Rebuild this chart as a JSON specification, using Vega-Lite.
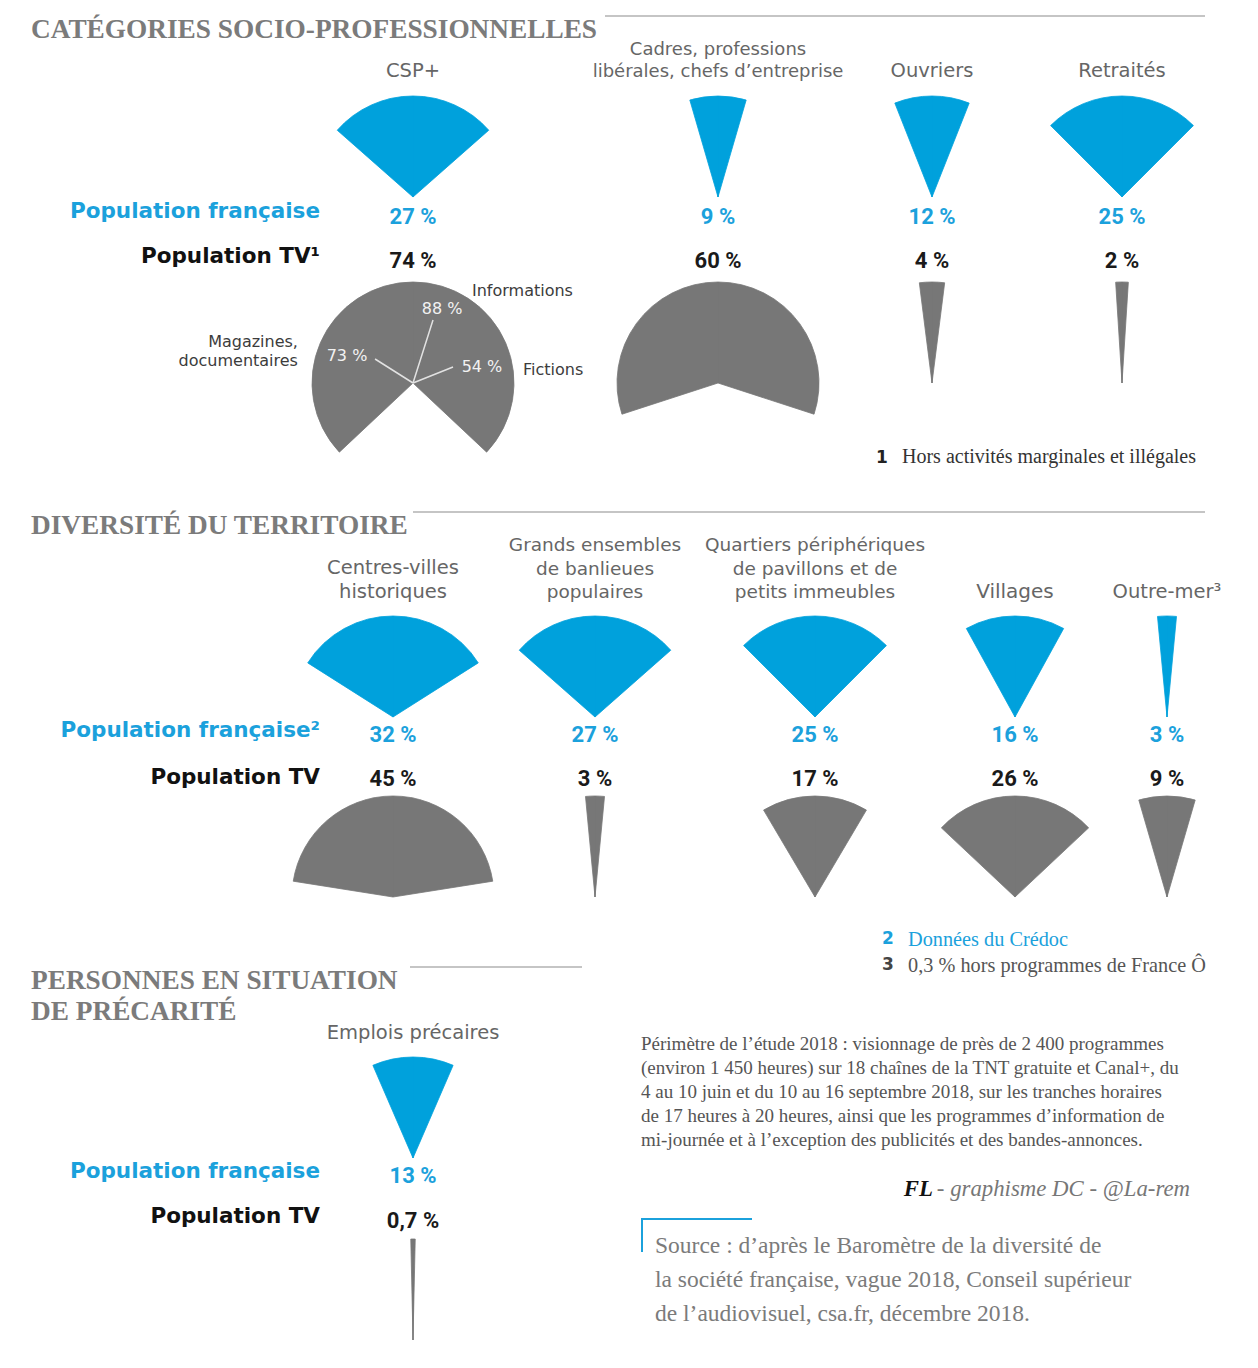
{
  "$schema": "https://vega.github.io/schema/vega-lite/v6.json",
  "background": "white",
  "padding": 0,
  "spacing": 0,
  "bounds": "full",
  "datasets": {
    "csp": [
      {"categorie": "CSP+", "population": "Population française", "part": 27},
      {"categorie": "CSP+", "population": "Population TV¹", "part": 74},
      {"categorie": "Cadres, professions\nlibérales, chefs d’entreprise", "population": "Population française", "part": 9},
      {"categorie": "Cadres, professions\nlibérales, chefs d’entreprise", "population": "Population TV¹", "part": 60},
      {"categorie": "Ouvriers", "population": "Population française", "part": 12},
      {"categorie": "Ouvriers", "population": "Population TV¹", "part": 4},
      {"categorie": "Retraités", "population": "Population française", "part": 25},
      {"categorie": "Retraités", "population": "Population TV¹", "part": 2}
    ],
    "genres": [
      {"genre": "Informations", "part": 88},
      {"genre": "Magazines,\ndocumentaires", "part": 73},
      {"genre": "Fictions", "part": 54}
    ],
    "territoire": [
      {"categorie": "Centres-villes\nhistoriques", "population": "Population française²", "part": 32},
      {"categorie": "Centres-villes\nhistoriques", "population": "Population TV", "part": 45},
      {"categorie": "Grands ensembles\nde banlieues\npopulaires", "population": "Population française²", "part": 27},
      {"categorie": "Grands ensembles\nde banlieues\npopulaires", "population": "Population TV", "part": 3},
      {"categorie": "Quartiers périphériques\nde pavillons et de\npetits immeubles", "population": "Population française²", "part": 25},
      {"categorie": "Quartiers périphériques\nde pavillons et de\npetits immeubles", "population": "Population TV", "part": 17},
      {"categorie": "Villages", "population": "Population française²", "part": 16},
      {"categorie": "Villages", "population": "Population TV", "part": 26},
      {"categorie": "Outre-mer³", "population": "Population française²", "part": 3},
      {"categorie": "Outre-mer³", "population": "Population TV", "part": 9}
    ],
    "precarite": [
      {"categorie": "Emplois précaires", "population": "Population française", "part": 13},
      {"categorie": "Emplois précaires", "population": "Population TV", "part": 0.7}
    ]
  },
  "vconcat": [
    {
      "spacing": 0, "bounds": "flush",
      "hconcat": [
        {"width": 320, "height": 490,
         "layer": [
           {"data": {"name": "csp"},
            "transform": [{"aggregate": [{"op": "count", "as": "n"}], "groupby": ["population"]}],
            "mark": {"type": "text", "font": "DejaVu Sans", "fontWeight": "bold", "fontSize": 21.5, "align": "right", "baseline": "middle"},
            "encoding": {
              "x": {"value": "width"},
              "y": {"field": "population", "type": "nominal", "scale": {"domain": ["Population française", "Population TV¹"], "range": [212, 257], "padding": 0}, "axis": null},
              "text": {"field": "population", "type": "nominal"},
              "color": {"field": "population", "type": "nominal", "scale": {"domain": ["Population française", "Population TV¹"], "range": ["#1ba1dc", "#111111"]}, "legend": null}
            }},
           {"data": {"values": [{}]},
            "mark": {"type": "text", "text": "CATÉGORIES SOCIO-PROFESSIONNELLES", "font": "Liberation Serif", "fontWeight": "bold", "fontSize": 27.3, "color": "#7b7b7b", "align": "left", "baseline": "top", "dx": 31, "dy": 16},
            "encoding": {"x": {"value": 0}, "y": {"value": 0}}},
           {"data": {"values": [{}]},
            "mark": {"type": "rule", "color": "#8c8c8c", "strokeWidth": 1.2, "xOffset": 605, "x2Offset": 1205, "yOffset": 16},
            "encoding": {"x": {"value": 0}, "x2": {"value": 0}, "y": {"value": 0}}},
           {"data": {"values": [{}]},
            "mark": {"type": "text", "text": "1", "font": "DejaVu Sans", "fontWeight": "bold", "fontSize": 17, "color": "#222222", "align": "left", "baseline": "top", "dx": 876, "dy": 450},
            "encoding": {"x": {"value": 0}, "y": {"value": 0}}},
           {"data": {"values": [{}]},
            "mark": {"type": "text", "text": "Hors activités marginales et illégales", "font": "Liberation Serif", "fontSize": 20, "color": "#333333", "align": "left", "baseline": "top", "dx": 902, "dy": 447},
            "encoding": {"x": {"value": 0}, "y": {"value": 0}}}
         ],
         "resolve": {"scale": {"y": "independent", "color": "independent"}}
        },
        {"width": 186, "height": 490, "data": {"name": "csp"},
         "layer": [
           {"transform": [{"filter": {"field": "categorie", "equal": "CSP+"}}],
            "mark": {"type": "arc", "radius": 101, "strokeWidth": 0.8},
            "encoding": {
              "y": {"field": "population", "type": "nominal", "scale": {"domain": ["Population française", "Population TV¹"], "range": [197, 383], "padding": 0}, "axis": null},
              "theta": {"field": "part", "type": "quantitative", "stack": null, "scale": {"domain": [0, 100], "range": [0, -3.14159265], "zero": false, "nice": false}},
              "color": {"field": "population", "type": "nominal", "scale": {"domain": ["Population française", "Population TV¹"], "range": ["#00a1dc", "#777777"]}, "legend": null},
              "stroke": {"field": "population", "type": "nominal", "scale": {"domain": ["Population française", "Population TV¹"], "range": ["#00a1dc", "#777777"]}, "legend": null}
            }},
           {"transform": [{"filter": {"field": "categorie", "equal": "CSP+"}}],
            "mark": {"type": "arc", "radius": 101, "strokeWidth": 0.8},
            "encoding": {
              "y": {"field": "population", "type": "nominal", "scale": {"domain": ["Population française", "Population TV¹"], "range": [197, 383], "padding": 0}, "axis": null},
              "theta": {"field": "part", "type": "quantitative", "stack": null, "scale": {"domain": [0, 100], "range": [0, 3.14159265], "zero": false, "nice": false}},
              "color": {"field": "population", "type": "nominal", "scale": {"domain": ["Population française", "Population TV¹"], "range": ["#00a1dc", "#777777"]}, "legend": null},
              "stroke": {"field": "population", "type": "nominal", "scale": {"domain": ["Population française", "Population TV¹"], "range": ["#00a1dc", "#777777"]}, "legend": null}
            }},
           {"transform": [{"filter": {"field": "categorie", "equal": "CSP+"}}],
            "mark": {"type": "text", "font": "Roboto", "fontWeight": "bold", "fontSize": 22, "baseline": "middle"},
            "encoding": {
              "y": {"field": "population", "type": "nominal", "scale": {"domain": ["Population française", "Population TV¹"], "range": [217, 261], "padding": 0}, "axis": null},
              "text": {"field": "part", "type": "quantitative", "format": "$~g"},
              "color": {"field": "population", "type": "nominal", "scale": {"domain": ["Population française", "Population TV¹"], "range": ["#1ba1dc", "#1a1a1a"]}, "legend": null}
            }},
           {"transform": [{"filter": {"field": "categorie", "equal": "CSP+"}}, {"filter": {"field": "population", "equal": "Population française"}}],
            "mark": {"type": "text", "font": "DejaVu Sans", "fontSize": 19.5, "color": "#666666", "baseline": "bottom", "lineBreak": "\n", "lineHeight": 22},
            "encoding": {
              "y": {"field": "population", "type": "nominal", "scale": {"domain": ["Population française", "Population TV¹"], "range": [81, 383], "padding": 0}, "axis": null},
              "text": {"field": "categorie", "type": "nominal"}
            }},
           {"data": {"name": "genres"},
            "mark": {"type": "arc", "filled": false, "color": "#e2e2e2", "strokeWidth": 1.5, "radius2": 0},
            "encoding": {
              "y": {"datum": "Population TV¹", "type": "nominal", "scale": {"domain": ["Population française", "Population TV¹"], "range": [197, 383], "padding": 0}, "axis": null},
              "theta": {"field": "part", "type": "quantitative", "stack": null, "scale": {"type": "linear", "domain": [54, 73, 88], "range": [1.19, -1.007, 0.3076], "zero": false, "nice": false}},
              "theta2": {"field": "part"},
              "radius": {"field": "part", "type": "quantitative", "stack": null, "scale": {"type": "linear", "domain": [54, 73, 88], "range": [43.1, 44.9, 66.1], "zero": false, "nice": false}}
            }},
           {"data": {"name": "genres"},
            "mark": {"type": "text", "font": "DejaVu Sans", "fontSize": 16, "color": "#f2f2f2", "baseline": "middle"},
            "encoding": {
              "y": {"datum": "Population TV¹", "type": "nominal", "scale": {"domain": ["Population française", "Population TV¹"], "range": [197, 383], "padding": 0}, "axis": null},
              "theta": {"field": "part", "type": "quantitative", "stack": null, "scale": {"type": "linear", "domain": [54, 73, 88], "range": [1.342, -1.182, 0.374], "zero": false, "nice": false}},
              "radius": {"field": "part", "type": "quantitative", "stack": null, "scale": {"type": "linear", "domain": [54, 73, 88], "range": [70.8, 71.3, 79.5], "zero": false, "nice": false}},
              "text": {"field": "part", "type": "quantitative", "format": "$~g"}
            }},
           {"data": {"name": "genres"},
            "transform": [{"filter": {"field": "genre", "oneOf": ["Informations", "Fictions"]}}],
            "mark": {"type": "text", "font": "DejaVu Sans", "fontSize": 16, "color": "#3c3c3c", "align": "left", "baseline": "middle"},
            "encoding": {
              "y": {"datum": "Population TV¹", "type": "nominal", "scale": {"domain": ["Population française", "Population TV¹"], "range": [197, 383], "padding": 0}, "axis": null},
              "theta": {"field": "part", "type": "quantitative", "stack": null, "scale": {"type": "linear", "domain": [54, 88], "range": [1.453, 0.57], "zero": false, "nice": false}},
              "radius": {"field": "part", "type": "quantitative", "stack": null, "scale": {"type": "linear", "domain": [54, 88], "range": [110.8, 109.3], "zero": false, "nice": false}},
              "text": {"field": "genre", "type": "nominal"}
            }},
           {"data": {"name": "genres"},
            "transform": [{"filter": {"field": "genre", "equal": "Magazines,\ndocumentaires"}}],
            "mark": {"type": "text", "font": "DejaVu Sans", "fontSize": 16, "color": "#3c3c3c", "align": "right", "baseline": "middle", "lineBreak": "\n", "lineHeight": 19},
            "encoding": {
              "y": {"datum": "Population TV¹", "type": "nominal", "scale": {"domain": ["Population française", "Population TV¹"], "range": [197, 383], "padding": 0}, "axis": null},
              "theta": {"field": "part", "type": "quantitative", "stack": null, "scale": {"type": "linear", "domain": [0, 73], "range": [0, -1.229], "zero": false, "nice": false}},
              "radius": {"field": "part", "type": "quantitative", "stack": null, "scale": {"type": "linear", "domain": [0, 73], "range": [0, 122.1], "zero": false, "nice": false}},
              "text": {"field": "genre", "type": "nominal"}
            }}
         ],
         "resolve": {"scale": {"theta": "independent", "radius": "independent", "y": "independent", "color": "independent"}}
        },
        {"width": 60, "height": 490, "data": {"values": []}, "mark": {"type": "point", "opacity": 0}},
        {"width": 304, "height": 490, "data": {"name": "csp"},
         "transform": [{"filter": {"field": "categorie", "equal": "Cadres, professions\nlibérales, chefs d’entreprise"}}],
         "layer": [
           {"mark": {"type": "arc", "radius": 101, "strokeWidth": 0.8},
            "encoding": {
              "y": {"field": "population", "type": "nominal", "scale": {"domain": ["Population française", "Population TV¹"], "range": [197, 383], "padding": 0}, "axis": null},
              "theta": {"field": "part", "type": "quantitative", "stack": null, "scale": {"domain": [0, 100], "range": [0, -3.14159265], "zero": false, "nice": false}},
              "color": {"field": "population", "type": "nominal", "scale": {"domain": ["Population française", "Population TV¹"], "range": ["#00a1dc", "#777777"]}, "legend": null},
              "stroke": {"field": "population", "type": "nominal", "scale": {"domain": ["Population française", "Population TV¹"], "range": ["#00a1dc", "#777777"]}, "legend": null}
            }},
           {"mark": {"type": "arc", "radius": 101, "strokeWidth": 0.8},
            "encoding": {
              "y": {"field": "population", "type": "nominal", "scale": {"domain": ["Population française", "Population TV¹"], "range": [197, 383], "padding": 0}, "axis": null},
              "theta": {"field": "part", "type": "quantitative", "stack": null, "scale": {"domain": [0, 100], "range": [0, 3.14159265], "zero": false, "nice": false}},
              "color": {"field": "population", "type": "nominal", "scale": {"domain": ["Population française", "Population TV¹"], "range": ["#00a1dc", "#777777"]}, "legend": null},
              "stroke": {"field": "population", "type": "nominal", "scale": {"domain": ["Population française", "Population TV¹"], "range": ["#00a1dc", "#777777"]}, "legend": null}
            }},
           {"mark": {"type": "text", "font": "Roboto", "fontWeight": "bold", "fontSize": 22, "baseline": "middle"},
            "encoding": {
              "y": {"field": "population", "type": "nominal", "scale": {"domain": ["Population française", "Population TV¹"], "range": [217, 261], "padding": 0}, "axis": null},
              "text": {"field": "part", "type": "quantitative", "format": "$~g"},
              "color": {"field": "population", "type": "nominal", "scale": {"domain": ["Population française", "Population TV¹"], "range": ["#1ba1dc", "#1a1a1a"]}, "legend": null}
            }},
           {"transform": [{"filter": {"field": "population", "equal": "Population française"}}],
            "mark": {"type": "text", "font": "DejaVu Sans", "fontSize": 18, "color": "#666666", "baseline": "bottom", "lineBreak": "\n", "lineHeight": 22},
            "encoding": {
              "y": {"field": "population", "type": "nominal", "scale": {"domain": ["Population française", "Population TV¹"], "range": [59, 383], "padding": 0}, "axis": null},
              "text": {"field": "categorie", "type": "nominal"}
            }}
         ],
         "resolve": {"scale": {"theta": "independent", "y": "independent", "color": "independent"}}
        },
        {"width": 124, "height": 490, "data": {"name": "csp"},
         "transform": [{"filter": {"field": "categorie", "equal": "Ouvriers"}}],
         "layer": [
           {"mark": {"type": "arc", "radius": 101, "strokeWidth": 0.8},
            "encoding": {
              "y": {"field": "population", "type": "nominal", "scale": {"domain": ["Population française", "Population TV¹"], "range": [197, 383], "padding": 0}, "axis": null},
              "theta": {"field": "part", "type": "quantitative", "stack": null, "scale": {"domain": [0, 100], "range": [0, -3.14159265], "zero": false, "nice": false}},
              "color": {"field": "population", "type": "nominal", "scale": {"domain": ["Population française", "Population TV¹"], "range": ["#00a1dc", "#777777"]}, "legend": null},
              "stroke": {"field": "population", "type": "nominal", "scale": {"domain": ["Population française", "Population TV¹"], "range": ["#00a1dc", "#777777"]}, "legend": null}
            }},
           {"mark": {"type": "arc", "radius": 101, "strokeWidth": 0.8},
            "encoding": {
              "y": {"field": "population", "type": "nominal", "scale": {"domain": ["Population française", "Population TV¹"], "range": [197, 383], "padding": 0}, "axis": null},
              "theta": {"field": "part", "type": "quantitative", "stack": null, "scale": {"domain": [0, 100], "range": [0, 3.14159265], "zero": false, "nice": false}},
              "color": {"field": "population", "type": "nominal", "scale": {"domain": ["Population française", "Population TV¹"], "range": ["#00a1dc", "#777777"]}, "legend": null},
              "stroke": {"field": "population", "type": "nominal", "scale": {"domain": ["Population française", "Population TV¹"], "range": ["#00a1dc", "#777777"]}, "legend": null}
            }},
           {"mark": {"type": "text", "font": "Roboto", "fontWeight": "bold", "fontSize": 22, "baseline": "middle"},
            "encoding": {
              "y": {"field": "population", "type": "nominal", "scale": {"domain": ["Population française", "Population TV¹"], "range": [217, 261], "padding": 0}, "axis": null},
              "text": {"field": "part", "type": "quantitative", "format": "$~g"},
              "color": {"field": "population", "type": "nominal", "scale": {"domain": ["Population française", "Population TV¹"], "range": ["#1ba1dc", "#1a1a1a"]}, "legend": null}
            }},
           {"transform": [{"filter": {"field": "population", "equal": "Population française"}}],
            "mark": {"type": "text", "font": "DejaVu Sans", "fontSize": 19.5, "color": "#666666", "baseline": "bottom", "lineBreak": "\n", "lineHeight": 22},
            "encoding": {
              "y": {"field": "population", "type": "nominal", "scale": {"domain": ["Population française", "Population TV¹"], "range": [81, 383], "padding": 0}, "axis": null},
              "text": {"field": "categorie", "type": "nominal"}
            }}
         ],
         "resolve": {"scale": {"theta": "independent", "y": "independent", "color": "independent"}}
        },
        {"width": 256, "height": 490, "data": {"name": "csp"},
         "transform": [{"filter": {"field": "categorie", "equal": "Retraités"}}],
         "layer": [
           {"mark": {"type": "arc", "radius": 101, "strokeWidth": 0.8},
            "encoding": {
              "y": {"field": "population", "type": "nominal", "scale": {"domain": ["Population française", "Population TV¹"], "range": [197, 383], "padding": 0}, "axis": null},
              "theta": {"field": "part", "type": "quantitative", "stack": null, "scale": {"domain": [0, 100], "range": [0, -3.14159265], "zero": false, "nice": false}},
              "color": {"field": "population", "type": "nominal", "scale": {"domain": ["Population française", "Population TV¹"], "range": ["#00a1dc", "#777777"]}, "legend": null},
              "stroke": {"field": "population", "type": "nominal", "scale": {"domain": ["Population française", "Population TV¹"], "range": ["#00a1dc", "#777777"]}, "legend": null}
            }},
           {"mark": {"type": "arc", "radius": 101, "strokeWidth": 0.8},
            "encoding": {
              "y": {"field": "population", "type": "nominal", "scale": {"domain": ["Population française", "Population TV¹"], "range": [197, 383], "padding": 0}, "axis": null},
              "theta": {"field": "part", "type": "quantitative", "stack": null, "scale": {"domain": [0, 100], "range": [0, 3.14159265], "zero": false, "nice": false}},
              "color": {"field": "population", "type": "nominal", "scale": {"domain": ["Population française", "Population TV¹"], "range": ["#00a1dc", "#777777"]}, "legend": null},
              "stroke": {"field": "population", "type": "nominal", "scale": {"domain": ["Population française", "Population TV¹"], "range": ["#00a1dc", "#777777"]}, "legend": null}
            }},
           {"mark": {"type": "text", "font": "Roboto", "fontWeight": "bold", "fontSize": 22, "baseline": "middle"},
            "encoding": {
              "y": {"field": "population", "type": "nominal", "scale": {"domain": ["Population française", "Population TV¹"], "range": [217, 261], "padding": 0}, "axis": null},
              "text": {"field": "part", "type": "quantitative", "format": "$~g"},
              "color": {"field": "population", "type": "nominal", "scale": {"domain": ["Population française", "Population TV¹"], "range": ["#1ba1dc", "#1a1a1a"]}, "legend": null}
            }},
           {"transform": [{"filter": {"field": "population", "equal": "Population française"}}],
            "mark": {"type": "text", "font": "DejaVu Sans", "fontSize": 19.5, "color": "#666666", "baseline": "bottom", "lineBreak": "\n", "lineHeight": 22},
            "encoding": {
              "y": {"field": "population", "type": "nominal", "scale": {"domain": ["Population française", "Population TV¹"], "range": [81, 383], "padding": 0}, "axis": null},
              "text": {"field": "categorie", "type": "nominal"}
            }}
         ],
         "resolve": {"scale": {"theta": "independent", "y": "independent", "color": "independent"}}
        }
      ]
    },
    {
      "spacing": 0, "bounds": "flush",
      "hconcat": [
        {"width": 320, "height": 440,
         "layer": [
           {"data": {"name": "territoire"},
            "transform": [{"aggregate": [{"op": "count", "as": "n"}], "groupby": ["population"]}],
            "mark": {"type": "text", "font": "DejaVu Sans", "fontWeight": "bold", "fontSize": 21.5, "align": "right", "baseline": "middle"},
            "encoding": {
              "x": {"value": "width"},
              "y": {"field": "population", "type": "nominal", "scale": {"domain": ["Population française²", "Population TV"], "range": [241, 288], "padding": 0}, "axis": null},
              "text": {"field": "population", "type": "nominal"},
              "color": {"field": "population", "type": "nominal", "scale": {"domain": ["Population française²", "Population TV"], "range": ["#1ba1dc", "#111111"]}, "legend": null}
            }},
           {"data": {"values": [{}]},
            "mark": {"type": "text", "text": "DIVERSITÉ DU TERRITOIRE", "font": "Liberation Serif", "fontWeight": "bold", "fontSize": 27.3, "color": "#7b7b7b", "align": "left", "baseline": "top", "dx": 31, "dy": 22},
            "encoding": {"x": {"value": 0}, "y": {"value": 0}}},
           {"data": {"values": [{}]},
            "mark": {"type": "rule", "color": "#8c8c8c", "strokeWidth": 1.2, "xOffset": 413, "x2Offset": 1205, "yOffset": 22},
            "encoding": {"x": {"value": 0}, "x2": {"value": 0}, "y": {"value": 0}}}
         ],
         "resolve": {"scale": {"y": "independent", "color": "independent"}}
        },
        {"width": 146, "height": 440, "data": {"name": "territoire"},
         "transform": [{"filter": {"field": "categorie", "equal": "Centres-villes\nhistoriques"}}],
         "layer": [
           {"mark": {"type": "arc", "radius": 101, "strokeWidth": 0.8},
            "encoding": {
              "y": {"field": "population", "type": "nominal", "scale": {"domain": ["Population française²", "Population TV"], "range": [227, 407], "padding": 0}, "axis": null},
              "theta": {"field": "part", "type": "quantitative", "stack": null, "scale": {"domain": [0, 100], "range": [0, -3.14159265], "zero": false, "nice": false}},
              "color": {"field": "population", "type": "nominal", "scale": {"domain": ["Population française²", "Population TV"], "range": ["#00a1dc", "#777777"]}, "legend": null},
              "stroke": {"field": "population", "type": "nominal", "scale": {"domain": ["Population française²", "Population TV"], "range": ["#00a1dc", "#777777"]}, "legend": null}
            }},
           {"mark": {"type": "arc", "radius": 101, "strokeWidth": 0.8},
            "encoding": {
              "y": {"field": "population", "type": "nominal", "scale": {"domain": ["Population française²", "Population TV"], "range": [227, 407], "padding": 0}, "axis": null},
              "theta": {"field": "part", "type": "quantitative", "stack": null, "scale": {"domain": [0, 100], "range": [0, 3.14159265], "zero": false, "nice": false}},
              "color": {"field": "population", "type": "nominal", "scale": {"domain": ["Population française²", "Population TV"], "range": ["#00a1dc", "#777777"]}, "legend": null},
              "stroke": {"field": "population", "type": "nominal", "scale": {"domain": ["Population française²", "Population TV"], "range": ["#00a1dc", "#777777"]}, "legend": null}
            }},
           {"mark": {"type": "text", "font": "Roboto", "fontWeight": "bold", "fontSize": 22, "baseline": "middle"},
            "encoding": {
              "y": {"field": "population", "type": "nominal", "scale": {"domain": ["Population française²", "Population TV"], "range": [245, 289], "padding": 0}, "axis": null},
              "text": {"field": "part", "type": "quantitative", "format": "$~g"},
              "color": {"field": "population", "type": "nominal", "scale": {"domain": ["Population française²", "Population TV"], "range": ["#1ba1dc", "#1a1a1a"]}, "legend": null}
            }},
           {"transform": [{"filter": {"field": "population", "equal": "Population française²"}}],
            "mark": {"type": "text", "font": "DejaVu Sans", "fontSize": 19.5, "color": "#666666", "baseline": "bottom", "lineBreak": "\n", "lineHeight": 24},
            "encoding": {
              "y": {"field": "population", "type": "nominal", "scale": {"domain": ["Population française²", "Population TV"], "range": [88, 407], "padding": 0}, "axis": null},
              "text": {"field": "categorie", "type": "nominal"}
            }}
         ],
         "resolve": {"scale": {"theta": "independent", "y": "independent", "color": "independent"}}
        },
        {"width": 258, "height": 440, "data": {"name": "territoire"},
         "transform": [{"filter": {"field": "categorie", "equal": "Grands ensembles\nde banlieues\npopulaires"}}],
         "layer": [
           {"mark": {"type": "arc", "radius": 101, "strokeWidth": 0.8},
            "encoding": {
              "y": {"field": "population", "type": "nominal", "scale": {"domain": ["Population française²", "Population TV"], "range": [227, 407], "padding": 0}, "axis": null},
              "theta": {"field": "part", "type": "quantitative", "stack": null, "scale": {"domain": [0, 100], "range": [0, -3.14159265], "zero": false, "nice": false}},
              "color": {"field": "population", "type": "nominal", "scale": {"domain": ["Population française²", "Population TV"], "range": ["#00a1dc", "#777777"]}, "legend": null},
              "stroke": {"field": "population", "type": "nominal", "scale": {"domain": ["Population française²", "Population TV"], "range": ["#00a1dc", "#777777"]}, "legend": null}
            }},
           {"mark": {"type": "arc", "radius": 101, "strokeWidth": 0.8},
            "encoding": {
              "y": {"field": "population", "type": "nominal", "scale": {"domain": ["Population française²", "Population TV"], "range": [227, 407], "padding": 0}, "axis": null},
              "theta": {"field": "part", "type": "quantitative", "stack": null, "scale": {"domain": [0, 100], "range": [0, 3.14159265], "zero": false, "nice": false}},
              "color": {"field": "population", "type": "nominal", "scale": {"domain": ["Population française²", "Population TV"], "range": ["#00a1dc", "#777777"]}, "legend": null},
              "stroke": {"field": "population", "type": "nominal", "scale": {"domain": ["Population française²", "Population TV"], "range": ["#00a1dc", "#777777"]}, "legend": null}
            }},
           {"mark": {"type": "text", "font": "Roboto", "fontWeight": "bold", "fontSize": 22, "baseline": "middle"},
            "encoding": {
              "y": {"field": "population", "type": "nominal", "scale": {"domain": ["Population française²", "Population TV"], "range": [245, 289], "padding": 0}, "axis": null},
              "text": {"field": "part", "type": "quantitative", "format": "$~g"},
              "color": {"field": "population", "type": "nominal", "scale": {"domain": ["Population française²", "Population TV"], "range": ["#1ba1dc", "#1a1a1a"]}, "legend": null}
            }},
           {"transform": [{"filter": {"field": "population", "equal": "Population française²"}}],
            "mark": {"type": "text", "font": "DejaVu Sans", "fontSize": 18.5, "color": "#666666", "baseline": "bottom", "lineBreak": "\n", "lineHeight": 23.5},
            "encoding": {
              "y": {"field": "population", "type": "nominal", "scale": {"domain": ["Population française²", "Population TV"], "range": [65, 407], "padding": 0}, "axis": null},
              "text": {"field": "categorie", "type": "nominal"}
            }}
         ],
         "resolve": {"scale": {"theta": "independent", "y": "independent", "color": "independent"}}
        },
        {"width": 182, "height": 440, "data": {"name": "territoire"},
         "transform": [{"filter": {"field": "categorie", "equal": "Quartiers périphériques\nde pavillons et de\npetits immeubles"}}],
         "layer": [
           {"mark": {"type": "arc", "radius": 101, "strokeWidth": 0.8},
            "encoding": {
              "y": {"field": "population", "type": "nominal", "scale": {"domain": ["Population française²", "Population TV"], "range": [227, 407], "padding": 0}, "axis": null},
              "theta": {"field": "part", "type": "quantitative", "stack": null, "scale": {"domain": [0, 100], "range": [0, -3.14159265], "zero": false, "nice": false}},
              "color": {"field": "population", "type": "nominal", "scale": {"domain": ["Population française²", "Population TV"], "range": ["#00a1dc", "#777777"]}, "legend": null},
              "stroke": {"field": "population", "type": "nominal", "scale": {"domain": ["Population française²", "Population TV"], "range": ["#00a1dc", "#777777"]}, "legend": null}
            }},
           {"mark": {"type": "arc", "radius": 101, "strokeWidth": 0.8},
            "encoding": {
              "y": {"field": "population", "type": "nominal", "scale": {"domain": ["Population française²", "Population TV"], "range": [227, 407], "padding": 0}, "axis": null},
              "theta": {"field": "part", "type": "quantitative", "stack": null, "scale": {"domain": [0, 100], "range": [0, 3.14159265], "zero": false, "nice": false}},
              "color": {"field": "population", "type": "nominal", "scale": {"domain": ["Population française²", "Population TV"], "range": ["#00a1dc", "#777777"]}, "legend": null},
              "stroke": {"field": "population", "type": "nominal", "scale": {"domain": ["Population française²", "Population TV"], "range": ["#00a1dc", "#777777"]}, "legend": null}
            }},
           {"mark": {"type": "text", "font": "Roboto", "fontWeight": "bold", "fontSize": 22, "baseline": "middle"},
            "encoding": {
              "y": {"field": "population", "type": "nominal", "scale": {"domain": ["Population française²", "Population TV"], "range": [245, 289], "padding": 0}, "axis": null},
              "text": {"field": "part", "type": "quantitative", "format": "$~g"},
              "color": {"field": "population", "type": "nominal", "scale": {"domain": ["Population française²", "Population TV"], "range": ["#1ba1dc", "#1a1a1a"]}, "legend": null}
            }},
           {"transform": [{"filter": {"field": "population", "equal": "Population française²"}}],
            "mark": {"type": "text", "font": "DejaVu Sans", "fontSize": 18.5, "color": "#666666", "baseline": "bottom", "lineBreak": "\n", "lineHeight": 23.5},
            "encoding": {
              "y": {"field": "population", "type": "nominal", "scale": {"domain": ["Population française²", "Population TV"], "range": [65, 407], "padding": 0}, "axis": null},
              "text": {"field": "categorie", "type": "nominal"}
            }}
         ],
         "resolve": {"scale": {"theta": "independent", "y": "independent", "color": "independent"}}
        },
        {"width": 218, "height": 440, "data": {"name": "territoire"},
         "transform": [{"filter": {"field": "categorie", "equal": "Villages"}}],
         "layer": [
           {"mark": {"type": "arc", "radius": 101, "strokeWidth": 0.8},
            "encoding": {
              "y": {"field": "population", "type": "nominal", "scale": {"domain": ["Population française²", "Population TV"], "range": [227, 407], "padding": 0}, "axis": null},
              "theta": {"field": "part", "type": "quantitative", "stack": null, "scale": {"domain": [0, 100], "range": [0, -3.14159265], "zero": false, "nice": false}},
              "color": {"field": "population", "type": "nominal", "scale": {"domain": ["Population française²", "Population TV"], "range": ["#00a1dc", "#777777"]}, "legend": null},
              "stroke": {"field": "population", "type": "nominal", "scale": {"domain": ["Population française²", "Population TV"], "range": ["#00a1dc", "#777777"]}, "legend": null}
            }},
           {"mark": {"type": "arc", "radius": 101, "strokeWidth": 0.8},
            "encoding": {
              "y": {"field": "population", "type": "nominal", "scale": {"domain": ["Population française²", "Population TV"], "range": [227, 407], "padding": 0}, "axis": null},
              "theta": {"field": "part", "type": "quantitative", "stack": null, "scale": {"domain": [0, 100], "range": [0, 3.14159265], "zero": false, "nice": false}},
              "color": {"field": "population", "type": "nominal", "scale": {"domain": ["Population française²", "Population TV"], "range": ["#00a1dc", "#777777"]}, "legend": null},
              "stroke": {"field": "population", "type": "nominal", "scale": {"domain": ["Population française²", "Population TV"], "range": ["#00a1dc", "#777777"]}, "legend": null}
            }},
           {"mark": {"type": "text", "font": "Roboto", "fontWeight": "bold", "fontSize": 22, "baseline": "middle"},
            "encoding": {
              "y": {"field": "population", "type": "nominal", "scale": {"domain": ["Population française²", "Population TV"], "range": [245, 289], "padding": 0}, "axis": null},
              "text": {"field": "part", "type": "quantitative", "format": "$~g"},
              "color": {"field": "population", "type": "nominal", "scale": {"domain": ["Population française²", "Population TV"], "range": ["#1ba1dc", "#1a1a1a"]}, "legend": null}
            }},
           {"transform": [{"filter": {"field": "population", "equal": "Population française²"}}],
            "mark": {"type": "text", "font": "DejaVu Sans", "fontSize": 20, "color": "#666666", "baseline": "bottom", "lineBreak": "\n", "lineHeight": 24},
            "encoding": {
              "y": {"field": "population", "type": "nominal", "scale": {"domain": ["Population française²", "Population TV"], "range": [112, 407], "padding": 0}, "axis": null},
              "text": {"field": "categorie", "type": "nominal"}
            }}
         ],
         "resolve": {"scale": {"theta": "independent", "y": "independent", "color": "independent"}}
        },
        {"width": 86, "height": 440, "data": {"name": "territoire"},
         "transform": [{"filter": {"field": "categorie", "equal": "Outre-mer³"}}],
         "layer": [
           {"mark": {"type": "arc", "radius": 101, "strokeWidth": 0.8},
            "encoding": {
              "y": {"field": "population", "type": "nominal", "scale": {"domain": ["Population française²", "Population TV"], "range": [227, 407], "padding": 0}, "axis": null},
              "theta": {"field": "part", "type": "quantitative", "stack": null, "scale": {"domain": [0, 100], "range": [0, -3.14159265], "zero": false, "nice": false}},
              "color": {"field": "population", "type": "nominal", "scale": {"domain": ["Population française²", "Population TV"], "range": ["#00a1dc", "#777777"]}, "legend": null},
              "stroke": {"field": "population", "type": "nominal", "scale": {"domain": ["Population française²", "Population TV"], "range": ["#00a1dc", "#777777"]}, "legend": null}
            }},
           {"mark": {"type": "arc", "radius": 101, "strokeWidth": 0.8},
            "encoding": {
              "y": {"field": "population", "type": "nominal", "scale": {"domain": ["Population française²", "Population TV"], "range": [227, 407], "padding": 0}, "axis": null},
              "theta": {"field": "part", "type": "quantitative", "stack": null, "scale": {"domain": [0, 100], "range": [0, 3.14159265], "zero": false, "nice": false}},
              "color": {"field": "population", "type": "nominal", "scale": {"domain": ["Population française²", "Population TV"], "range": ["#00a1dc", "#777777"]}, "legend": null},
              "stroke": {"field": "population", "type": "nominal", "scale": {"domain": ["Population française²", "Population TV"], "range": ["#00a1dc", "#777777"]}, "legend": null}
            }},
           {"mark": {"type": "text", "font": "Roboto", "fontWeight": "bold", "fontSize": 22, "baseline": "middle"},
            "encoding": {
              "y": {"field": "population", "type": "nominal", "scale": {"domain": ["Population française²", "Population TV"], "range": [245, 289], "padding": 0}, "axis": null},
              "text": {"field": "part", "type": "quantitative", "format": "$~g"},
              "color": {"field": "population", "type": "nominal", "scale": {"domain": ["Population française²", "Population TV"], "range": ["#1ba1dc", "#1a1a1a"]}, "legend": null}
            }},
           {"transform": [{"filter": {"field": "population", "equal": "Population française²"}}],
            "mark": {"type": "text", "font": "DejaVu Sans", "fontSize": 19.5, "color": "#666666", "baseline": "bottom", "lineBreak": "\n", "lineHeight": 24},
            "encoding": {
              "y": {"field": "population", "type": "nominal", "scale": {"domain": ["Population française²", "Population TV"], "range": [112, 407], "padding": 0}, "axis": null},
              "text": {"field": "categorie", "type": "nominal"}
            }}
         ],
         "resolve": {"scale": {"theta": "independent", "y": "independent", "color": "independent"}}
        }
      ]
    },
    {
      "spacing": 0, "bounds": "flush",
      "hconcat": [
        {"width": 320, "height": 438,
         "layer": [
           {"data": {"name": "precarite"},
            "transform": [{"aggregate": [{"op": "count", "as": "n"}], "groupby": ["population"]}],
            "mark": {"type": "text", "font": "DejaVu Sans", "fontWeight": "bold", "fontSize": 21.5, "align": "right", "baseline": "middle"},
            "encoding": {
              "x": {"value": "width"},
              "y": {"field": "population", "type": "nominal", "scale": {"domain": ["Population française", "Population TV"], "range": [242, 287], "padding": 0}, "axis": null},
              "text": {"field": "population", "type": "nominal"},
              "color": {"field": "population", "type": "nominal", "scale": {"domain": ["Population française", "Population TV"], "range": ["#1ba1dc", "#111111"]}, "legend": null}
            }},
           {"data": {"values": [{}]},
            "mark": {"type": "text", "text": ["PERSONNES EN SITUATION", "DE PRÉCARITÉ"], "font": "Liberation Serif", "fontWeight": "bold", "fontSize": 27.3, "color": "#7b7b7b", "align": "left", "baseline": "top", "lineHeight": 31, "dx": 31, "dy": 37},
            "encoding": {"x": {"value": 0}, "y": {"value": 0}}},
           {"data": {"values": [{}]},
            "mark": {"type": "rule", "color": "#8c8c8c", "strokeWidth": 1.2, "xOffset": 410, "x2Offset": 582, "yOffset": 37},
            "encoding": {"x": {"value": 0}, "x2": {"value": 0}, "y": {"value": 0}}},
           {"data": {"values": [{}]},
            "mark": {"type": "text", "text": "2", "font": "DejaVu Sans", "fontWeight": "bold", "fontSize": 17, "color": "#1ba1dc", "align": "left", "baseline": "top", "dx": 882, "dy": 1},
            "encoding": {"x": {"value": 0}, "y": {"value": 0}}},
           {"data": {"values": [{}]},
            "mark": {"type": "text", "text": "Données du Crédoc", "font": "Liberation Serif", "fontSize": 20.3, "color": "#1ba1dc", "align": "left", "baseline": "top", "dx": 908, "dy": 0},
            "encoding": {"x": {"value": 0}, "y": {"value": 0}}},
           {"data": {"values": [{}]},
            "mark": {"type": "text", "text": "3", "font": "DejaVu Sans", "fontWeight": "bold", "fontSize": 17, "color": "#444444", "align": "left", "baseline": "top", "dx": 882, "dy": 27},
            "encoding": {"x": {"value": 0}, "y": {"value": 0}}},
           {"data": {"values": [{}]},
            "mark": {"type": "text", "text": "0,3 % hors programmes de France Ô", "font": "Liberation Serif", "fontSize": 20.3, "color": "#555555", "align": "left", "baseline": "top", "dx": 908, "dy": 26},
            "encoding": {"x": {"value": 0}, "y": {"value": 0}}},
           {"data": {"values": [{}]},
            "mark": {"type": "text", "text": [
               "Périmètre de l’étude 2018 : visionnage de près de 2 400 programmes",
               "(environ 1 450 heures) sur 18 chaînes de la TNT gratuite et Canal+, du",
               "4 au 10 juin et du 10 au 16 septembre 2018, sur les tranches horaires",
               "de 17 heures à 20 heures, ainsi que les programmes d’information de",
               "mi-journée et à l’exception des publicités et des bandes-annonces."],
               "font": "Liberation Serif", "fontSize": 19, "color": "#555555", "align": "left", "baseline": "alphabetic", "lineHeight": 24, "dx": 641, "dy": 120},
            "encoding": {"x": {"value": 0}, "y": {"value": 0}}},
           {"data": {"values": [{}]},
            "mark": {"type": "text", "text": "- graphisme DC - @La-rem", "font": "Liberation Serif", "fontStyle": "italic", "fontSize": 22.8, "color": "#777777", "align": "right", "baseline": "alphabetic", "dx": 1190, "dy": 266},
            "encoding": {"x": {"value": 0}, "y": {"value": 0}}},
           {"data": {"values": [{}]},
            "mark": {"type": "text", "text": "FL", "font": "Liberation Serif", "fontStyle": "italic", "fontWeight": "bold", "fontSize": 22.8, "color": "#111111", "align": "right", "baseline": "alphabetic", "dx": 933, "dy": 266},
            "encoding": {"x": {"value": 0}, "y": {"value": 0}}},
           {"data": {"values": [{}]},
            "mark": {"type": "rule", "color": "#1ba1dc", "strokeWidth": 2, "xOffset": 642, "x2Offset": 752, "yOffset": 289},
            "encoding": {"x": {"value": 0}, "x2": {"value": 0}, "y": {"value": 0}}},
           {"data": {"values": [{}]},
            "mark": {"type": "rule", "color": "#1ba1dc", "strokeWidth": 2, "xOffset": 642, "yOffset": 288, "y2Offset": 322},
            "encoding": {"x": {"value": 0}, "y": {"value": 0}, "y2": {"value": 0}}},
           {"data": {"values": [{}]},
            "mark": {"type": "text", "text": [
               "Source : d’après le Baromètre de la diversité de",
               "la société française, vague 2018, Conseil supérieur",
               "de l’audiovisuel, csa.fr, décembre 2018."],
               "font": "Liberation Serif", "fontSize": 23.5, "color": "#7b7b7b", "align": "left", "baseline": "alphabetic", "lineHeight": 34, "dx": 655, "dy": 323},
            "encoding": {"x": {"value": 0}, "y": {"value": 0}}}
         ],
         "resolve": {"scale": {"y": "independent", "color": "independent"}}
        },
        {"width": 186, "height": 438, "data": {"name": "precarite"},
         "transform": [{"filter": {"field": "categorie", "equal": "Emplois précaires"}}],
         "layer": [
           {"mark": {"type": "arc", "radius": 101, "strokeWidth": 0.8},
            "encoding": {
              "y": {"field": "population", "type": "nominal", "scale": {"domain": ["Population française", "Population TV"], "range": [228, 410], "padding": 0}, "axis": null},
              "theta": {"field": "part", "type": "quantitative", "stack": null, "scale": {"domain": [0, 100], "range": [0, -3.14159265], "zero": false, "nice": false}},
              "color": {"field": "population", "type": "nominal", "scale": {"domain": ["Population française", "Population TV"], "range": ["#00a1dc", "#777777"]}, "legend": null},
              "stroke": {"field": "population", "type": "nominal", "scale": {"domain": ["Population française", "Population TV"], "range": ["#00a1dc", "#777777"]}, "legend": null}
            }},
           {"mark": {"type": "arc", "radius": 101, "strokeWidth": 0.8},
            "encoding": {
              "y": {"field": "population", "type": "nominal", "scale": {"domain": ["Population française", "Population TV"], "range": [228, 410], "padding": 0}, "axis": null},
              "theta": {"field": "part", "type": "quantitative", "stack": null, "scale": {"domain": [0, 100], "range": [0, 3.14159265], "zero": false, "nice": false}},
              "color": {"field": "population", "type": "nominal", "scale": {"domain": ["Population française", "Population TV"], "range": ["#00a1dc", "#777777"]}, "legend": null},
              "stroke": {"field": "population", "type": "nominal", "scale": {"domain": ["Population française", "Population TV"], "range": ["#00a1dc", "#777777"]}, "legend": null}
            }},
           {"mark": {"type": "text", "font": "Roboto", "fontWeight": "bold", "fontSize": 22, "baseline": "middle"},
            "encoding": {
              "y": {"field": "population", "type": "nominal", "scale": {"domain": ["Population française", "Population TV"], "range": [246, 291], "padding": 0}, "axis": null},
              "text": {"field": "part", "type": "quantitative", "format": "$~g"},
              "color": {"field": "population", "type": "nominal", "scale": {"domain": ["Population française", "Population TV"], "range": ["#1ba1dc", "#1a1a1a"]}, "legend": null}
            }},
           {"transform": [{"filter": {"field": "population", "equal": "Population française"}}],
            "mark": {"type": "text", "font": "DejaVu Sans", "fontSize": 19.5, "color": "#666666", "baseline": "bottom", "lineBreak": "\n", "lineHeight": 24},
            "encoding": {
              "y": {"field": "population", "type": "nominal", "scale": {"domain": ["Population française", "Population TV"], "range": [113, 410], "padding": 0}, "axis": null},
              "text": {"field": "categorie", "type": "nominal"}
            }}
         ],
         "resolve": {"scale": {"theta": "independent", "y": "independent", "color": "independent"}}
        }
      ]
    }
  ],
  "config": {
    "view": {"stroke": null},
    "locale": {"number": {"decimal": ",", "thousands": " ", "grouping": [3], "currency": ["", " %"]}}
  }
}
